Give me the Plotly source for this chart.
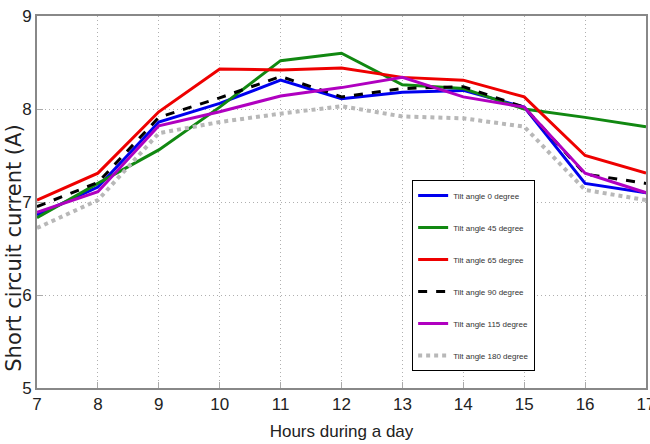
import plotly.graph_objects as go

hours = [7, 8, 9, 10, 11, 12, 13, 14, 15, 16, 17]
tilt_0 = [6.86, 7.16, 7.86, 8.06, 8.31, 8.11, 8.18, 8.20, 8.02, 7.20, 7.10]
tilt_45 = [6.83, 7.20, 7.56, 8.02, 8.52, 8.60, 8.26, 8.22, 8.00, 7.91, 7.81]
tilt_65 = [7.02, 7.31, 7.97, 8.43, 8.42, 8.44, 8.34, 8.31, 8.13, 7.50, 7.31]
tilt_90 = [6.95, 7.21, 7.91, 8.12, 8.35, 8.13, 8.22, 8.24, 8.02, 7.30, 7.20]
tilt_115 = [6.89, 7.11, 7.82, 7.97, 8.14, 8.23, 8.34, 8.13, 8.02, 7.31, 7.10]
tilt_180 = [6.72, 7.02, 7.74, 7.86, 7.95, 8.03, 7.92, 7.90, 7.81, 7.13, 7.02]

series = [
    ("Tilt angle 0 degree", tilt_0, "#0000ee", "solid", 3),
    ("Tilt angle 45 degree", tilt_45, "#118811", "solid", 3),
    ("Tilt angle 65 degree", tilt_65, "#ee0000", "solid", 3),
    ("Tilt angle 90 degree", tilt_90, "#000000", "dash", 3),
    ("Tilt angle 115 degree", tilt_115, "#b000c0", "solid", 3),
    ("Tilt angle 180 degree", tilt_180, "#b8b8b8", "dot", 4),
]

fig = go.Figure()
for i, (name, vals, color, dash, w) in enumerate(series):
    fig.add_trace(go.Scatter(
        x=hours, y=vals, mode="lines", name=name,
        line=dict(color=color, dash=dash, width=w),
        legendgroup=f"g{i}",
    ))

narrow = "Liberation Sans Narrow, Arial Narrow, Liberation Sans, Arial"
fig.update_layout(
    width=650, height=444,
    margin=dict(l=37, r=4, t=16, b=56),
    paper_bgcolor="white", plot_bgcolor="white",
    showlegend=True,
    legend=dict(
        x=0.616, y=0.559, xanchor="left", yanchor="top",
        bgcolor="white", bordercolor="black", borderwidth=1,
        font=dict(family=narrow, size=8, color="#333"),
        tracegroupgap=13, traceorder="grouped",
        itemwidth=30,
    ),
    xaxis=dict(
        range=[7, 17], tickvals=hours, ticktext=[str(h) for h in hours],
        showgrid=True, gridcolor="#b0b0b0", griddash="1px,3px", gridwidth=1,
        showline=True, linecolor="#888888", linewidth=2, mirror=True,
        ticks="inside", ticklen=6, tickcolor="#aaaaaa",
        zeroline=False, ticklabeloverflow="allow", automargin=False,
        tickfont=dict(family=narrow, size=17, color="#222"),
        title=dict(text="Hours during a day", font=dict(family=narrow, size=17, color="#222"), standoff=12),
    ),
    yaxis=dict(
        range=[5, 9], tickvals=[5, 6, 7, 8, 9],
        showgrid=True, gridcolor="#b0b0b0", griddash="1px,3px", gridwidth=1,
        showline=True, linecolor="#888888", linewidth=2, mirror=True,
        ticks="inside", ticklen=6, tickcolor="#aaaaaa",
        zeroline=False, ticklabeloverflow="allow", automargin=False,
        tickfont=dict(family=narrow, size=17, color="#222"),
    ),
    annotations=[dict(
        text="Short circuit current (A)", textangle=-90,
        xref="paper", yref="paper", x=-0.039, y=0.375,
        xanchor="center", yanchor="middle", showarrow=False,
        font=dict(family="DejaVu Sans", size=21, color="#222"),
    )],
)

fig.write_html("out.html")
